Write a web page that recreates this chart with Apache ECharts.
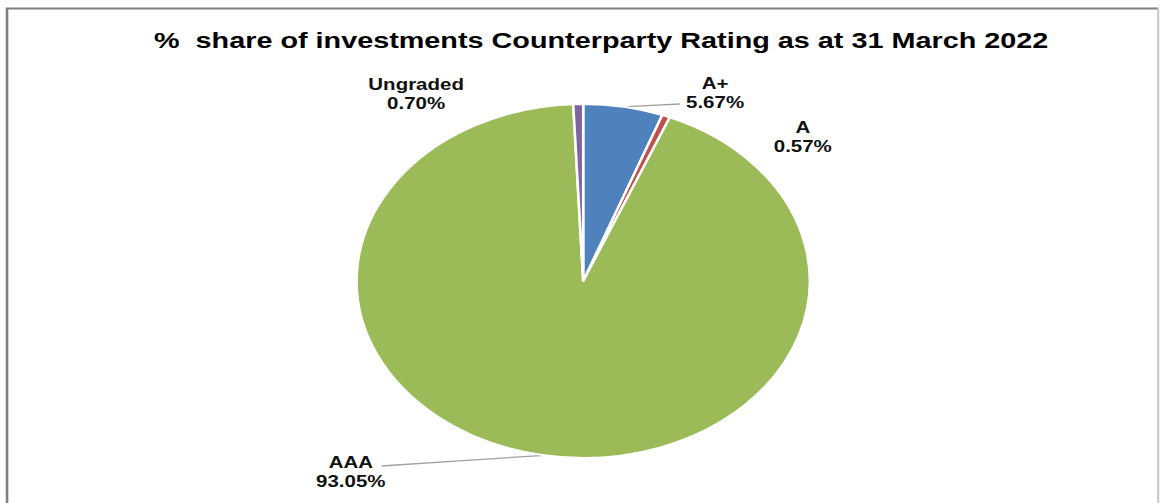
<!DOCTYPE html>
<html>
<head>
<meta charset="utf-8">
<script src="https://cdn.jsdelivr.net/npm/echarts@6/dist/echarts.min.js"></script>
<style>
html,body{margin:0;padding:0;background:#fff;overflow:hidden;width:1160px;height:503px;}
#chart{width:906px;height:503px;transform:scaleX(1.28035);transform-origin:0 0;}
</style>
</head>
<body>
<div id="chart"></div>
<script>
// Data
const titleText = '%  share of investments Counterparty Rating as at 31 March 2022';
const categories = ['A+', 'A', 'AAA', 'Ungraded'];
const shares = [5.67, 0.57, 93.05, 0.70];
const colors = ['#4F81BD', '#C0504D', '#9BBB59', '#8064A2'];
const showLine = [true, false, true, false];

// Layout (unscaled coordinates; the whole chart is stretched horizontally like the original)
const CX = 455.5, CY = 281, R = 177;
const labelPos = [[558.5, 93], [627, 137], [274, 472], [325, 94]];
const lineEnd = [[531, 104], null, [298, 466], null];

const chart = echarts.init(document.getElementById('chart'), null, {renderer: 'svg'});
const total = shares.reduce((a, b) => a + b, 0);

function edgePoint(i) {
  let cum = 0;
  for (let k = 0; k < i; k++) cum += shares[k];
  const th = (cum + shares[i] / 2) / total * 2 * Math.PI;
  return [CX + R * Math.sin(th), CY - R * Math.cos(th)];
}

chart.setOption({
  animation: false,
  backgroundColor: '#fff',
  title: {
    text: titleText,
    left: 469.5,
    top: 27,
    textAlign: 'center',
    padding: 0,
    textStyle: {fontFamily: 'Liberation Sans, Arial, sans-serif', fontWeight: 'bold', fontSize: 22.5, color: '#000', lineHeight: 26}
  },
  graphic: [
    {type: 'polyline', silent: true, shape: {points: [[5.5, 520], [5.5, 8.5], [904.5, 8.5]]}, style: {stroke: '#808080', lineWidth: 2, fill: null}},
    {type: 'line', silent: true, shape: {x1: 904.6, y1: 8.5, x2: 904.6, y2: 520}, style: {stroke: '#c4c4c4', lineWidth: 1.5}}
  ],
  series: [{
    type: 'pie',
    center: [CX, CY],
    radius: R,
    startAngle: 90,
    clockwise: true,
    avoidLabelOverlap: false,
    data: categories.map((c, i) => ({
      name: c,
      value: shares[i],
      itemStyle: {color: colors[i]},
      labelLine: {show: showLine[i]}
    })),
    itemStyle: {borderColor: '#fff', borderWidth: 2},
    label: {
      show: true,
      position: 'outside',
      formatter: p => p.name + '\n' + p.value.toFixed(2) + '%',
      fontFamily: 'Liberation Sans, Arial, sans-serif',
      fontWeight: 'bold',
      fontSize: 16,
      lineHeight: 19,
      color: '#111',
      align: 'center'
    },
    labelLine: {show: true, length: 10, length2: 20, lineStyle: {color: '#a0a0a0', width: 1.3}},
    labelLayout: function (params) {
      const i = params.dataIndex;
      const out = {x: labelPos[i][0], y: labelPos[i][1], align: 'center', verticalAlign: 'middle', hideOverlap: false};
      if (lineEnd[i]) {
        const p0 = edgePoint(i);
        const e = lineEnd[i];
        out.labelLinePoints = [p0, [(p0[0] + e[0]) / 2, (p0[1] + e[1]) / 2], e];
      }
      return out;
    }
  }]
});
</script>
</body>
</html>
